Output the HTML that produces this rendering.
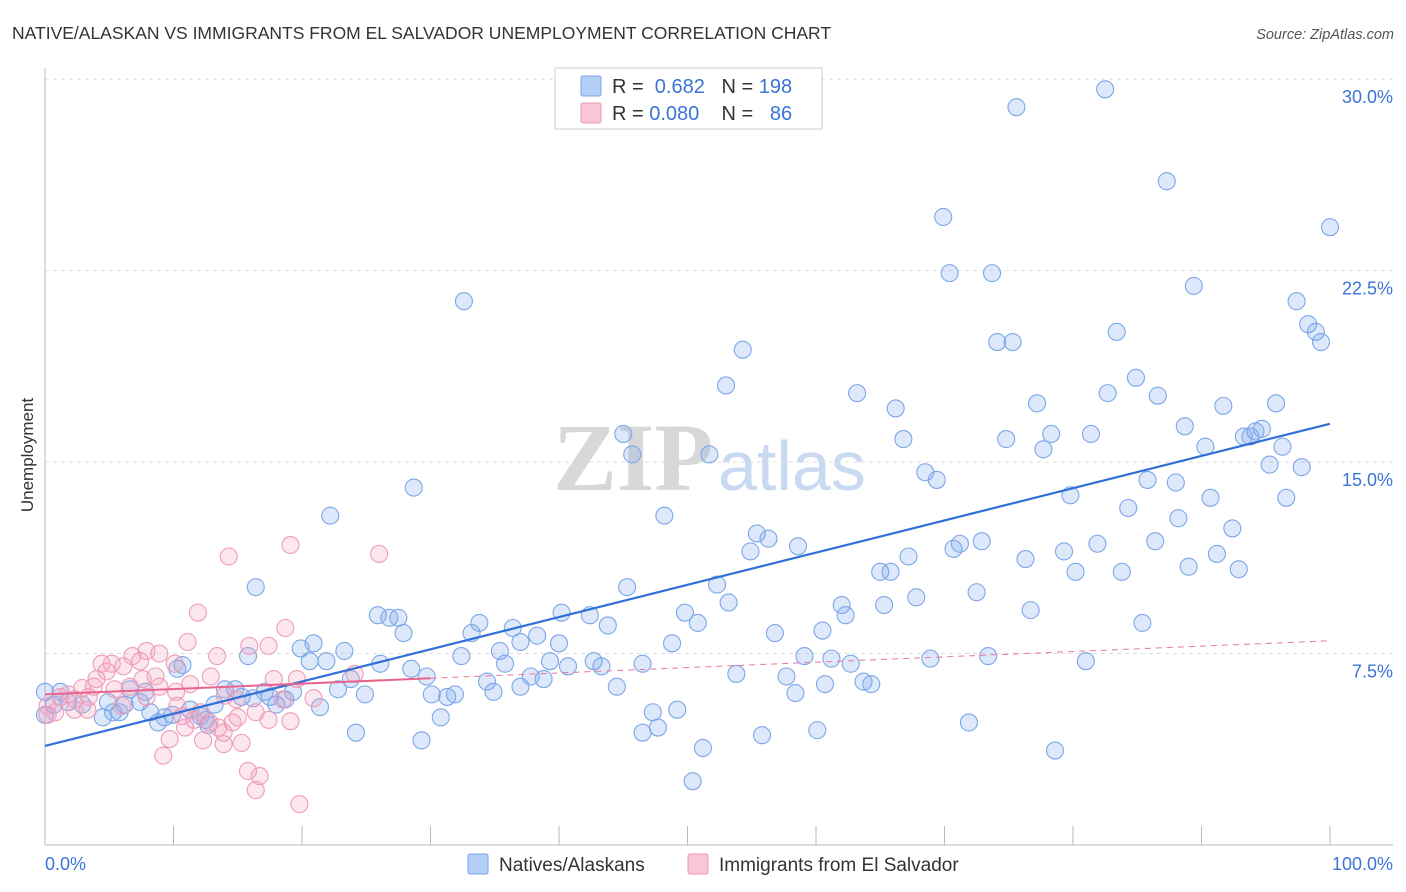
<!DOCTYPE html>
<html><head><meta charset="utf-8">
<style>
body{margin:0;background:#fff;font-family:"Liberation Sans",sans-serif;}
svg{display:block}
</style></head>
<body>
<svg id="chart" width="1406" height="892" xmlns="http://www.w3.org/2000/svg">
<text x="12" y="39" font-size="17.5" fill="#333">NATIVE/ALASKAN VS IMMIGRANTS FROM EL SALVADOR UNEMPLOYMENT CORRELATION CHART</text>
<text x="1394" y="39" font-size="14.5" fill="#555" font-style="italic" text-anchor="end">Source: ZipAtlas.com</text>
<text transform="translate(33,455) rotate(-90)" font-size="17" fill="#333" text-anchor="middle">Unemployment</text>
<g>
<text x="553" y="490" font-size="96" font-family="Liberation Serif,serif" fill="#d8d8d8" font-weight="bold">ZIP</text>
<text x="718" y="490" font-size="70" fill="#c9d9f2">atlas</text>
</g>
<g id="grid"></g>
<g id="axes"></g>
<g id="pts"></g>
<g id="lines"></g>
<g>
<rect x="555" y="68" width="267" height="61" fill="#fff" stroke="#ccc"/>
<rect x="581" y="76" width="20" height="20" fill="#b4cff5" stroke="#7aa6e6" rx="2"/>
<rect x="581" y="103" width="20" height="20" fill="#f8c6d6" stroke="#eb98b4" rx="2"/>
<text x="612" y="93" font-size="20" fill="#333">R = <tspan fill="#3a74d6">&#160;0.682</tspan>&#160;&#160;&#160;N = <tspan fill="#3a74d6">198</tspan></text>
<text x="612" y="120" font-size="20" fill="#333">R = <tspan fill="#3a74d6">0.080</tspan>&#160;&#160;&#160;&#160;N = <tspan fill="#3a74d6">&#160;&#160;86</tspan></text>
</g>
<g>
<rect x="468" y="854" width="20" height="20" fill="#b4cff5" stroke="#7aa6e6" rx="2"/>
<text x="499" y="871" font-size="19" fill="#333">Natives/Alaskans</text>
<rect x="688" y="854" width="20" height="20" fill="#f8c6d6" stroke="#eb98b4" rx="2"/>
<text x="719" y="871" font-size="19" fill="#333">Immigrants from El Salvador</text>
</g>
<text x="45" y="870" font-size="18" fill="#3a74d6">0.0%</text>
<text x="1393" y="870" font-size="18" fill="#3a74d6" text-anchor="end">100.0%</text>
</svg>
<script>
const yTicks=[7.5,15,22.5,30];
const yTickLabels=["7.5%","15.0%","22.5%","30.0%"];
const xTicks=[0,10,20,30,40,50,60,70,80,90,100];
const blueX=[82.5,75.6,87.3,69.9,100,70.4,73.7,89.4,32.6,97.4,98.3,98.9,83.4,99.3,74.1,75.3,54.3,53.0,84.9,63.2,82.7,86.6,66.2,77.2,91.7,95.8,88.7,81.4,78.3,94.7,94.2,93.3,93.8,45.0,66.8,74.8,90.3,77.7,96.3,45.7,51.7,95.3,97.8,68.5,69.4,85.8,88.0,28.7,79.8,90.7,96.6,84.3,22.2,48.2,88.2,92.4,55.4,56.3,86.4,71.2,72.9,81.9,58.6,54.9,70.7,79.3,91.2,67.2,76.3,89.0,92.9,65.0,65.8,80.2,83.8,52.3,16.4,45.3,72.5,67.8,53.2,65.3,62.0,76.7,25.9,42.4,40.2,49.8,62.3,26.8,27.5,33.8,50.8,85.4,43.8,36.4,60.5,27.9,33.2,56.8,38.3,20.9,40.0,48.8,37.0,19.9,23.3,35.4,10.7,15.8,20.6,32.4,26.1,21.9,59.1,61.2,35.8,42.7,39.3,46.5,62.7,68.9,73.4,81.0,10.3,28.5,40.7,43.3,53.8,57.7,29.7,23.8,34.4,37.8,38.8,60.7,63.7,64.3,37.0,34.9,44.5,0,1.2,14.0,14.8,15.3,6.6,7.8,17.1,19.3,22.8,24.9,30.1,31.3,31.9,58.4,17.5,18.0,18.7,16.2,4.9,6.2,7.4,13.2,21.4,1.8,2.9,0.7,5.3,5.8,11.3,47.3,49.2,8.2,9.3,9.9,4.5,8.8,12.1,12.5,30.8,12.7,71.9,47.7,46.5,24.2,60.1,55.8,29.3,51.2,78.6,50.4,0];
const blueY=[29.6,28.9,26.0,24.6,24.2,22.4,22.4,21.9,21.3,21.3,20.4,20.1,20.1,19.7,19.7,19.7,19.4,18.0,18.3,17.7,17.7,17.6,17.1,17.3,17.2,17.3,16.4,16.1,16.1,16.3,16.2,16.0,16.0,16.1,15.9,15.9,15.6,15.5,15.6,15.3,15.3,14.9,14.8,14.6,14.3,14.3,14.2,14.0,13.7,13.6,13.6,13.2,12.9,12.9,12.8,12.4,12.2,12.0,11.9,11.8,11.9,11.8,11.7,11.5,11.6,11.5,11.4,11.3,11.2,10.9,10.8,10.7,10.7,10.7,10.7,10.2,10.1,10.1,9.9,9.7,9.5,9.4,9.4,9.2,9.0,9.0,9.1,9.1,9.0,8.9,8.9,8.7,8.7,8.7,8.6,8.5,8.4,8.3,8.3,8.3,8.2,7.9,7.9,7.9,7.95,7.7,7.6,7.6,7.05,7.4,7.2,7.4,7.1,7.2,7.4,7.3,7.1,7.2,7.2,7.1,7.1,7.3,7.4,7.2,6.9,6.9,7.0,7.0,6.7,6.6,6.6,6.5,6.4,6.6,6.5,6.3,6.4,6.3,6.2,6.0,6.2,6.0,6.0,6.1,6.1,5.8,6.1,6.0,6.0,6.0,6.1,5.9,5.9,5.8,5.9,5.95,5.8,5.5,5.7,5.75,5.6,5.5,5.6,5.5,5.4,5.6,5.5,5.5,5.2,5.2,5.3,5.2,5.3,5.2,5.0,5.1,5.0,4.8,5.05,4.9,5.0,4.7,4.8,4.6,4.4,4.4,4.5,4.3,4.1,3.8,3.7,2.5,5.1];
const pinkX=[14.3,19.1,26.0,11.9,18.7,11.1,15.9,17.4,7.9,8.9,6.8,13.4,4.4,5.2,6.1,7.4,4.8,10.1,4.0,7.6,12.9,8.6,17.8,24.1,19.6,11.3,3.8,2.9,5.4,6.6,8.9,10.2,1.8,2.3,1.2,3.4,7.9,14.0,14.9,20.9,18.5,0.2,0.8,2.3,3.3,6.0,10.3,12.1,16.4,10.7,11.6,15.0,17.4,12.8,14.6,19.1,10.9,13.5,13.9,9.7,12.3,13.9,15.3,9.2,15.8,16.7,16.4,19.8,0.2];
const pinkY=[11.3,11.75,11.4,9.1,8.5,7.95,7.8,7.8,7.6,7.5,7.4,7.4,7.1,7.1,7.0,7.2,6.8,7.1,6.5,6.5,6.6,6.6,6.5,6.7,6.5,6.3,6.2,6.15,6.1,6.2,6.2,6.0,5.9,5.7,5.8,5.8,5.8,5.85,5.7,5.75,5.7,5.45,5.2,5.3,5.3,5.45,5.45,5.2,5.2,5.05,4.9,5.0,4.9,4.8,4.8,4.85,4.6,4.6,4.4,4.15,4.1,3.95,4.0,3.5,2.9,2.7,2.15,1.6,5.1];
const blueTrend=[3.88,16.5];
const pinkTrend=[5.9,8.0];
const pinkSolidEnd=30;
const X=v=>45+v*12.85, Y=v=>845-v*25.53;
const NS="http://www.w3.org/2000/svg";
function mk(tag,attrs,parent){const e=document.createElementNS(NS,tag);for(const k in attrs)e.setAttribute(k,attrs[k]);document.getElementById(parent).appendChild(e);return e;}
yTicks.forEach((t,i)=>{
 const g=mk('line',{x1:45,x2:1393,y1:Y(t),y2:Y(t),stroke:'#ddd','stroke-dasharray':'4,4'},'grid');
 
 
 const l=mk('text',{x:1393,y:Y(t)+24,'font-size':18,fill:'#3a74d6','text-anchor':'end'},'grid');
 l.textContent=yTickLabels[i];
 
 
});
const ax=mk('line',{x1:45,x2:1393,y1:845,y2:845,stroke:'#bbb'},'axes');


const ay=mk('line',{x1:45,x2:45,y1:68,y2:845,stroke:'#bbb'},'axes');


xTicks.forEach(t=>{
 const tk=mk('line',{x1:X(t),x2:X(t),y1:826,y2:845,stroke:'#bbb'},'axes');
 
 
});
blueX.forEach((v,i)=>{
 const c=mk('circle',{cx:X(v),cy:Y(blueY[i]),r:8.5,fill:'rgba(120,165,235,0.25)',stroke:'#7ca7e8','stroke-width':1.1},'pts');
 
 
});
pinkX.forEach((v,i)=>{
 const c=mk('circle',{cx:X(v),cy:Y(pinkY[i]),r:8.5,fill:'rgba(245,160,190,0.25)',stroke:'#ee9cb8','stroke-width':1.1},'pts');
 
 
});
const bl=mk('line',{x1:X(0),y1:Y(blueTrend[0]),x2:X(100),y2:Y(blueTrend[1]),stroke:'#2f6fd6','stroke-width':2.2},'lines');


const pf=v=>pinkTrend[0]+(pinkTrend[1]-pinkTrend[0])*v/100;
const ps=mk('line',{x1:X(0),y1:Y(pf(0)),x2:X(pinkSolidEnd),y2:Y(pf(pinkSolidEnd)),stroke:'#e8648f','stroke-width':2},'lines');


const pd=mk('line',{x1:X(pinkSolidEnd),y1:Y(pf(pinkSolidEnd)),x2:X(100),y2:Y(pf(100)),stroke:'#e8789c','stroke-width':1,'stroke-dasharray':'6,5'},'lines');


</script>
</body></html>
